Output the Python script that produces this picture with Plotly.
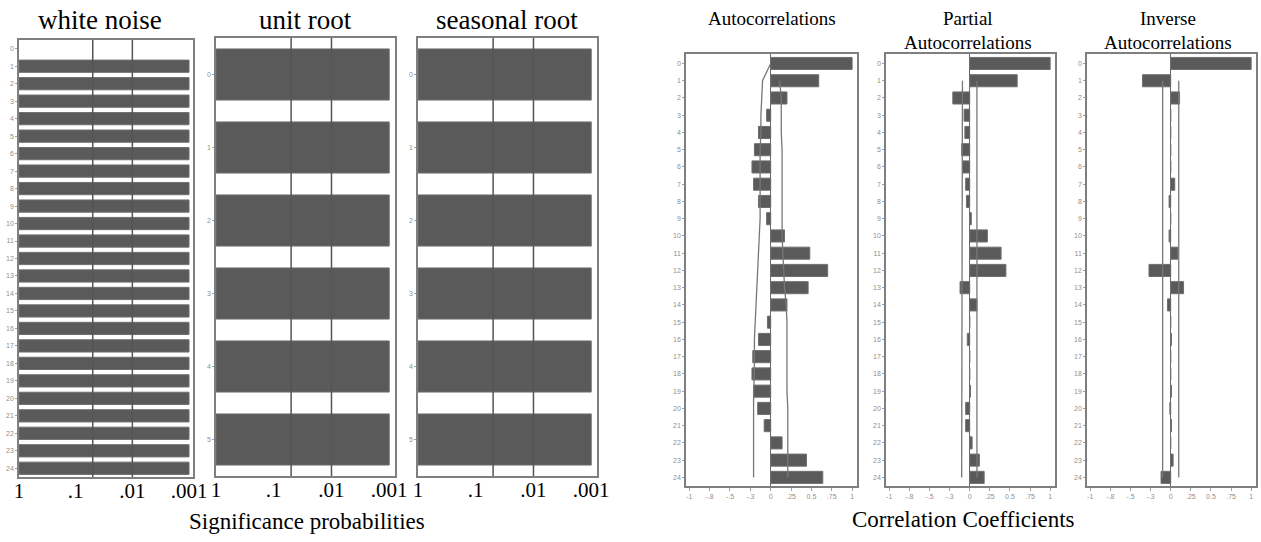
import math
import plotly.graph_objects as go

# ---------------- data ----------------
# Significance probabilities (p-values) for the three tests
wn_lags = list(range(0, 25))
wn_p = [None, 0.0001, 0.0001, 0.0001, 0.0001, 0.0001, 0.0001, 0.0001, 0.0001,
        0.0001, 0.0001, 0.0001, 0.0001, 0.0001, 0.0001, 0.0001, 0.0001, 0.0001,
        0.0001, 0.0001, 0.0001, 0.0001, 0.0001, 0.0001, 0.0001]
ur_lags = [0, 1, 2, 3, 4, 5]
ur_p = [0.0001, 0.0001, 0.0001, 0.0001, 0.0001, 0.0001]
sr_lags = [0, 1, 2, 3, 4, 5]
sr_p = [0.0001, 0.0001, 0.0001, 0.0001, 0.0001, 0.0001]
p_floor = 0.001
sig_thresholds = [0.05, 0.01]
sig_tick_vals = [1, 0.1, 0.01, 0.001]
sig_tick_text = ["1", ".1", ".01", ".001"]

# Correlation coefficients
corr_lags = list(range(0, 25))
acf = [1.00, 0.59, 0.20, -0.05, -0.15, -0.20, -0.23, -0.21, -0.15, -0.05, 0.17,
       0.48, 0.70, 0.46, 0.20, -0.04, -0.15, -0.22, -0.23, -0.21, -0.16, -0.08,
       0.14, 0.44, 0.64]
acf_upper = [None, 0.11, 0.13, 0.13, 0.13, 0.14, 0.14, 0.14, 0.14, 0.14, 0.14,
             0.15, 0.16, 0.17, 0.19, 0.20, 0.20, 0.20, 0.20, 0.20, 0.21, 0.21,
             0.21, 0.21, 0.21]
acf_lower = [0.00, -0.10, -0.11, -0.12, -0.12, -0.13, -0.13, -0.13, -0.13, -0.13,
             -0.14, -0.15, -0.16, -0.17, -0.18, -0.19, -0.20, -0.20, -0.20, -0.21,
             -0.21, -0.21, -0.21, -0.21, -0.21]
pacf = [1.00, 0.59, -0.21, -0.07, -0.06, -0.10, -0.09, -0.05, -0.04, 0.02, 0.22,
        0.39, 0.45, -0.12, 0.09, 0.00, -0.03, 0.00, 0.00, 0.01, -0.05, -0.05,
        0.03, 0.12, 0.18]
pacf_bound_lags = [1, 24]
pacf_upper = [0.09, 0.09]
pacf_lower = [-0.09, -0.10]
iacf = [1.00, -0.35, 0.11, 0.00, 0.00, 0.00, 0.00, 0.05, -0.02, 0.00, -0.02,
        0.09, -0.27, 0.16, -0.04, 0.00, 0.01, 0.00, 0.00, 0.01, -0.01, 0.01,
        0.00, 0.03, -0.12]
iacf_bound_lags = [1, 24]
iacf_upper = [0.10, 0.10]
iacf_lower = [-0.10, -0.10]
corr_tick_vals = [-1, -0.75, -0.5, -0.25, 0, 0.25, 0.5, 0.75, 1]
corr_tick_text = ["-1", "-.8", "-.5", "-.3", "0", ".25", "0.5", ".75", "1"]

# ---------------- styling ----------------
W, H = 1261, 542
SERIF = "Liberation Serif"
BAR = "#5a5a5a"
BAR_EDGE = "#6f6f6f"
FRAME = "#7f7f7f"
SMALL = dict(family="Liberation Sans", size=7, color="#8f8f8f")


def px_x(a, b):
    return [a / W, b / W]


def px_y(top, bottom):
    return [1 - bottom / H, 1 - top / H]


def neglog(p):
    return None if p is None else -math.log10(max(p, p_floor))


fig = go.Figure()

sig_panels = [
    (wn_lags, wn_p, px_x(19, 193), px_y(40, 477), [24.5, -0.5], 3.07),
    (ur_lags, ur_p, px_x(216, 395), px_y(38, 476), [5.5, -0.5], 3.1),
    (sr_lags, sr_p, px_x(418, 597), px_y(38, 476), [5.5, -0.5], 3.1),
]

layout = dict(
    width=W, height=H, autosize=False,
    margin=dict(l=0, r=0, t=0, b=0, pad=0),
    paper_bgcolor="white", plot_bgcolor="white",
    showlegend=False, bargap=0.3,
)

ax = 1
for lags, pv, xd, yd, yr, xmax in sig_panels:
    xs = "" if ax == 1 else str(ax)
    fig.add_trace(go.Bar(
        x=[neglog(p) for p in pv], y=lags, orientation="h", width=0.7,
        marker=dict(color=BAR, line=dict(color=BAR_EDGE, width=1)),
        xaxis="x" + xs, yaxis="y" + xs, hoverinfo="x+y",
    ))
    layout["xaxis" + xs] = dict(
        domain=xd, range=[0, xmax], anchor="y" + xs, automargin=False,
        tickvals=[-math.log10(v) for v in sig_tick_vals], ticktext=sig_tick_text,
        tickfont=dict(family=SERIF, size=21, color="black"), ticks="",
        ticklabelstandoff=-6,
        showgrid=False, zeroline=False, showline=True, mirror=True,
        linecolor=FRAME, linewidth=1.5, fixedrange=True,
    )
    layout["yaxis" + xs] = dict(
        domain=yd, range=yr, anchor="x" + xs, automargin=False,
        tickvals=lags, ticktext=[str(v) for v in lags], tickfont=SMALL,
        ticks="outside", ticklen=2, tickcolor="#a0a0a0",
        showgrid=False, zeroline=False, showline=True, mirror=True,
        linecolor=FRAME, linewidth=1.5, fixedrange=True,
    )
    for t in sig_thresholds:
        fig.add_shape(type="line", xref="x" + xs, yref="y" + xs + " domain",
                      x0=-math.log10(t), x1=-math.log10(t), y0=0, y1=1,
                      line=dict(color="#555555", width=1.5), layer="above")
    ax += 1

corr_panels = [
    (acf, (corr_lags, acf_upper), (corr_lags, acf_lower), px_x(686, 857)),
    (pacf, (pacf_bound_lags, pacf_upper), (pacf_bound_lags, pacf_lower), px_x(886, 1055)),
    (iacf, (iacf_bound_lags, iacf_upper), (iacf_bound_lags, iacf_lower), px_x(1087, 1256)),
]

for vals, up, lo, xd in corr_panels:
    xs = str(ax)
    fig.add_trace(go.Bar(
        x=vals, y=corr_lags, orientation="h", width=0.7,
        marker=dict(color=BAR, line=dict(color=BAR_EDGE, width=1)),
        xaxis="x" + xs, yaxis="y" + xs, hoverinfo="x+y",
    ))
    for lags_b, v_b in (up, lo):
        fig.add_trace(go.Scatter(
            x=v_b, y=lags_b, mode="lines", line=dict(color="#777777", width=1.3),
            xaxis="x" + xs, yaxis="y" + xs, hoverinfo="skip", connectgaps=False,
        ))
    layout["xaxis" + xs] = dict(
        domain=xd, range=[-1.04, 1.06], anchor="y" + xs, automargin=False,
        tickvals=corr_tick_vals, ticktext=corr_tick_text, tickfont=SMALL,
        ticks="outside", ticklen=3, tickcolor="#a0a0a0",
        showgrid=False, zeroline=True, zerolinecolor="#6a6a6a", zerolinewidth=1.3,
        showline=True, mirror=True, linecolor=FRAME, linewidth=1.5, fixedrange=True,
    )
    layout["yaxis" + xs] = dict(
        domain=px_y(54, 486), range=[24.5, -0.55], anchor="x" + xs, automargin=False,
        tickvals=corr_lags, ticktext=[str(v) for v in corr_lags], tickfont=SMALL,
        ticks="outside", ticklen=2, tickcolor="#a0a0a0",
        showgrid=False, zeroline=False, showline=True, mirror=True,
        linecolor=FRAME, linewidth=1.5, fixedrange=True,
    )
    ax += 1


def label(text, x, y, size):
    return dict(text=text, x=x / W, y=1 - y / H, xref="paper", yref="paper",
                showarrow=False, xanchor="center", yanchor="middle",
                font=dict(family=SERIF, size=size, color="black"))


layout["annotations"] = [
    label("white noise", 100, 20, 27),
    label("unit root", 305, 20, 27),
    label("seasonal root", 507, 20, 27),
    label("Significance probabilities", 307, 521, 23),
    label("Autocorrelations", 772, 19, 19),
    label("Partial", 968, 19, 19),
    label("Autocorrelations", 968, 42, 19),
    label("Inverse", 1168, 19, 19),
    label("Autocorrelations", 1168, 42, 19),
    label("Correlation Coefficients", 964, 519, 23),
]

fig.update_layout(**layout)
fig.write_html(
    "out.html",
    config={"displayModeBar": False},
    post_script="document.body.style.margin='0';document.body.style.overflow='hidden';",
)
